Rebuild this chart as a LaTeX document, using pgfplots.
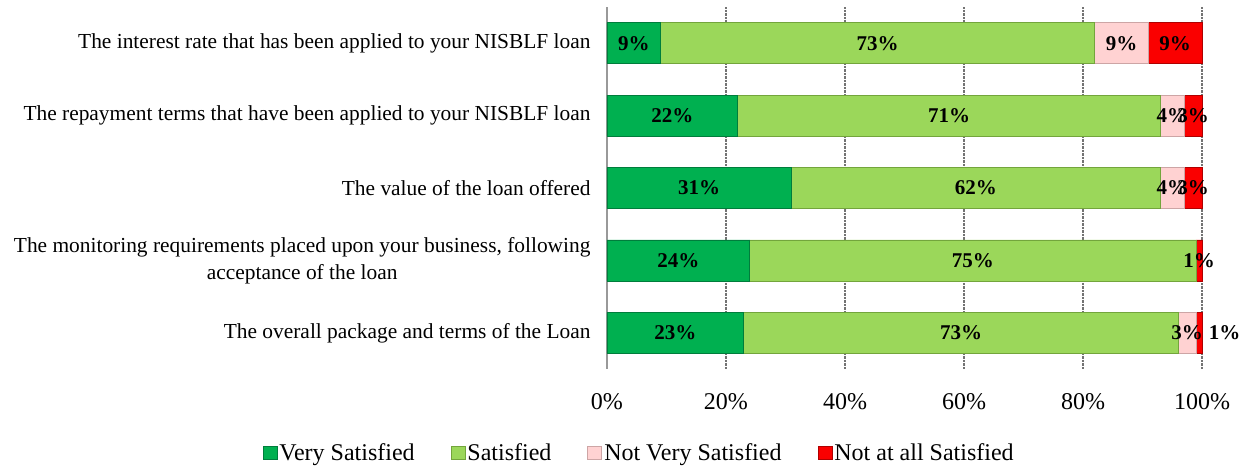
\documentclass[border=0pt]{standalone}
\usepackage{fontspec}
\setmainfont{Liberation Serif}
\usepackage{pgfplots}
\pgfplotsset{compat=1.18}

\definecolor{vsat}{RGB}{0,176,80}
\definecolor{vsatd}{RGB}{0,125,60}
\definecolor{sat}{RGB}{155,215,90}
\definecolor{satd}{RGB}{115,165,60}
\definecolor{nvs}{RGB}{255,210,210}
\definecolor{nvsd}{RGB}{205,165,165}
\definecolor{nas}{RGB}{250,0,0}
\definecolor{nasd}{RGB}{175,0,0}

\begin{document}
\begin{tikzpicture}
\begin{axis}[
    scale only axis,
    width=595pt, height=362pt,
    xbar stacked,
    bar width=41pt,
    xmin=0, xmax=100,
    ymin=-0.5, ymax=4.5,
    y dir=reverse,
    clip=false,
    axis line style={draw=none},
    major tick length=0pt,
    ytick={0,1,2,3,4},
    yticklabels={
        The interest rate that has been applied to your NISBLF loan,
        The repayment terms that have been applied to your NISBLF loan,
        The value of the loan offered,
        {The monitoring requirements placed upon your business, following\\acceptance of the loan},
        The overall package and terms of the Loan},
    yticklabel style={align=center, font=\fontsize{21.4}{27}\selectfont, xshift=-13pt},
    xtick={0,20,40,60,80,100},
    xticklabels={0\%,20\%,40\%,60\%,80\%,100\%},
    xticklabel style={font=\fontsize{24}{28}\selectfont, yshift=-21pt},
    xmajorgrids,
    grid style={densely dotted, gray!90!black, line width=1.2pt},
    extra x ticks={0},
    extra x tick labels={},
    extra x tick style={grid style={solid, gray!80, line width=1.2pt}},
    point meta=explicit symbolic,
    nodes near coords,
    every node near coord/.append style={anchor=center,
        font=\fontsize{21}{24}\selectfont\bfseries, text=black},
    legend style={at={(0.054,-0.232)}, anchor=center, draw=none,
        font=\fontsize{24}{26}\selectfont, legend columns=4,
        nodes={inner sep=2pt},
        /tikz/every even column/.append style={column sep=34pt}},
    legend image code/.code={\draw[#1] (0pt,-6.5pt) rectangle (14pt,6.5pt);},
]
\addplot[fill=vsat, draw=vsatd, line width=0.8pt] coordinates
    {(9,0)[9\%] (22,1)[22\%] (31,2)[31\%] (24,3)[24\%] (23,4)[23\%]};
\addplot[fill=sat, draw=satd, line width=0.8pt] coordinates
    {(73,0)[73\%] (71,1)[71\%] (62,2)[62\%] (75,3)[75\%] (73,4)[73\%]};
\addplot[fill=nvs, draw=nvsd, line width=0.8pt] coordinates
    {(9,0)[9\%] (4,1)[4\%] (4,2)[4\%] (0,3)[] (3,4)[3\%]};
\addplot[fill=nas, draw=nasd, line width=0.8pt] coordinates
    {(9,0)[9\%] (3,1)[3\%] (3,2)[3\%] (1,3)[1\%] (1,4)[]};
\legend{Very Satisfied, Satisfied, Not Very Satisfied, Not at all Satisfied}
\node[font=\fontsize{21}{24}\selectfont\bfseries] at (axis cs:103.8,4) {1\%};
\end{axis}
\path ([xshift=-607pt,yshift=-99pt]current axis.south west)
    rectangle ([xshift=50pt,yshift=7pt]current axis.north east);
\end{tikzpicture}
\end{document}
